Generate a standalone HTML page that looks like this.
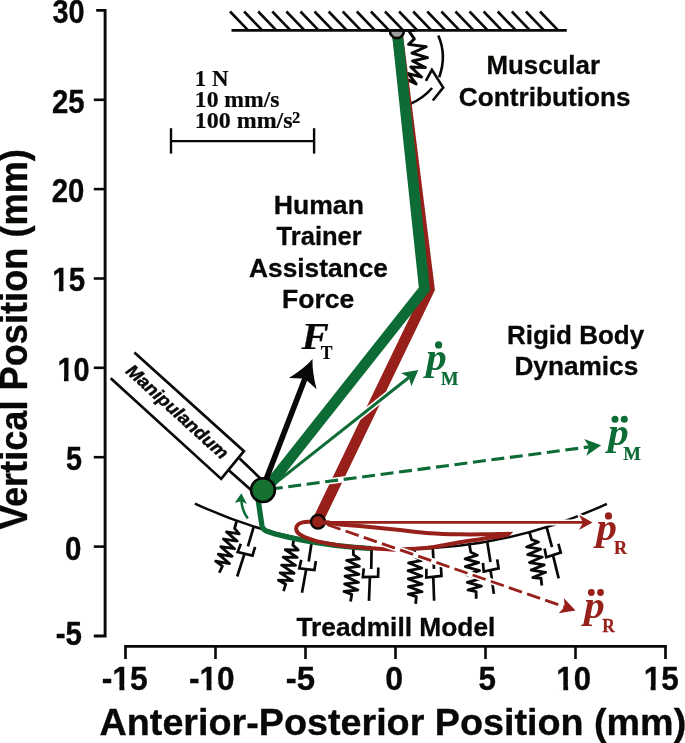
<!DOCTYPE html>
<html><head><meta charset="utf-8"><title>Figure</title>
<style>html,body{margin:0;padding:0;background:#fff;}svg{display:block;}</style>
</head><body>
<svg width="685" height="743" viewBox="0 0 685 743">
<rect width="685" height="743" fill="#fff"/>
<path d="M96.2,10.4 H105.1 V636 H93.8" fill="none" stroke="#0a0806" stroke-width="2.9" stroke-linejoin="miter"/>
<line x1="93.80" y1="99.80" x2="105.10" y2="99.80" stroke="#0a0806" stroke-width="2.6" />
<line x1="93.80" y1="189.10" x2="105.10" y2="189.10" stroke="#0a0806" stroke-width="2.6" />
<line x1="93.80" y1="278.50" x2="105.10" y2="278.50" stroke="#0a0806" stroke-width="2.6" />
<line x1="93.80" y1="367.80" x2="105.10" y2="367.80" stroke="#0a0806" stroke-width="2.6" />
<line x1="93.80" y1="457.20" x2="105.10" y2="457.20" stroke="#0a0806" stroke-width="2.6" />
<line x1="93.80" y1="546.60" x2="105.10" y2="546.60" stroke="#0a0806" stroke-width="2.6" />
<text transform="translate(52.45 23.00) scale(0.8765 1)" font-family='"Liberation Sans", Arial, Helvetica, sans-serif' font-weight="bold" font-style="normal" font-size="33" fill="#0a0806" stroke="#0a0806" stroke-width="0.35" stroke-linejoin="round">30</text>
<text transform="translate(51.97 112.70) scale(0.8881 1)" font-family='"Liberation Sans", Arial, Helvetica, sans-serif' font-weight="bold" font-style="normal" font-size="33" fill="#0a0806" stroke="#0a0806" stroke-width="0.35" stroke-linejoin="round">25</text>
<text transform="translate(51.77 201.90) scale(0.8901 1)" font-family='"Liberation Sans", Arial, Helvetica, sans-serif' font-weight="bold" font-style="normal" font-size="33" fill="#0a0806" stroke="#0a0806" stroke-width="0.35" stroke-linejoin="round">20</text>
<text transform="translate(52.26 291.30) scale(0.8942 1)" font-family='"Liberation Sans", Arial, Helvetica, sans-serif' font-weight="bold" font-style="normal" font-size="33" fill="#0a0806" stroke="#0a0806" stroke-width="0.35" stroke-linejoin="round">15</text>
<rect transform="translate(52.26 291.30) scale(0.8942 1)" x="0.99" y="-4.62" width="6.39" height="5.61" fill="#fff"/>
<rect transform="translate(52.26 291.30) scale(0.8942 1)" x="12.52" y="-4.62" width="5.96" height="5.61" fill="#fff"/>
<text transform="translate(57.49 381.10) scale(0.8783 1)" font-family='"Liberation Sans", Arial, Helvetica, sans-serif' font-weight="bold" font-style="normal" font-size="33" fill="#0a0806" stroke="#0a0806" stroke-width="0.35" stroke-linejoin="round">10</text>
<rect transform="translate(57.49 381.10) scale(0.8783 1)" x="0.99" y="-4.62" width="6.39" height="5.61" fill="#fff"/>
<rect transform="translate(57.49 381.10) scale(0.8783 1)" x="12.52" y="-4.62" width="5.96" height="5.61" fill="#fff"/>
<text transform="translate(65.94 470.30) scale(0.8710 1)" font-family='"Liberation Sans", Arial, Helvetica, sans-serif' font-weight="bold" font-style="normal" font-size="33" fill="#0a0806" stroke="#0a0806" stroke-width="0.35" stroke-linejoin="round">5</text>
<text transform="translate(65.12 559.70) scale(0.8931 1)" font-family='"Liberation Sans", Arial, Helvetica, sans-serif' font-weight="bold" font-style="normal" font-size="33" fill="#0a0806" stroke="#0a0806" stroke-width="0.35" stroke-linejoin="round">0</text>
<text transform="translate(55.72 645.10) scale(0.8943 1)" font-family='"Liberation Sans", Arial, Helvetica, sans-serif' font-weight="bold" font-style="normal" font-size="33" fill="#0a0806" stroke="#0a0806" stroke-width="0.35" stroke-linejoin="round">-5</text>
<path d="M125.5,659 V646.3 H665.5 V659" fill="none" stroke="#0a0806" stroke-width="2.7"/>
<line x1="215.50" y1="646.30" x2="215.50" y2="659.00" stroke="#0a0806" stroke-width="2.6" />
<line x1="305.50" y1="646.30" x2="305.50" y2="659.00" stroke="#0a0806" stroke-width="2.6" />
<line x1="395.50" y1="646.30" x2="395.50" y2="659.00" stroke="#0a0806" stroke-width="2.6" />
<line x1="485.50" y1="646.30" x2="485.50" y2="659.00" stroke="#0a0806" stroke-width="2.6" />
<line x1="575.50" y1="646.30" x2="575.50" y2="659.00" stroke="#0a0806" stroke-width="2.6" />
<text transform="translate(101.73 689.90) scale(0.9635 1)" font-family='"Liberation Sans", Arial, Helvetica, sans-serif' font-weight="bold" font-style="normal" font-size="33" fill="#0a0806" stroke="#0a0806" stroke-width="0.35" stroke-linejoin="round">-15</text>
<rect transform="translate(101.73 689.90) scale(0.9635 1)" x="11.98" y="-4.62" width="6.39" height="5.61" fill="#fff"/>
<rect transform="translate(101.73 689.90) scale(0.9635 1)" x="23.51" y="-4.62" width="5.96" height="5.61" fill="#fff"/>
<text transform="translate(189.04 689.90) scale(0.9568 1)" font-family='"Liberation Sans", Arial, Helvetica, sans-serif' font-weight="bold" font-style="normal" font-size="33" fill="#0a0806" stroke="#0a0806" stroke-width="0.35" stroke-linejoin="round">-10</text>
<rect transform="translate(189.04 689.90) scale(0.9568 1)" x="11.98" y="-4.62" width="6.39" height="5.61" fill="#fff"/>
<rect transform="translate(189.04 689.90) scale(0.9568 1)" x="23.51" y="-4.62" width="5.96" height="5.61" fill="#fff"/>
<text transform="translate(285.68 689.90) scale(0.9978 1)" font-family='"Liberation Sans", Arial, Helvetica, sans-serif' font-weight="bold" font-style="normal" font-size="33" fill="#0a0806" stroke="#0a0806" stroke-width="0.35" stroke-linejoin="round">-5</text>
<text transform="translate(385.22 689.90) scale(0.9697 1)" font-family='"Liberation Sans", Arial, Helvetica, sans-serif' font-weight="bold" font-style="normal" font-size="33" fill="#0a0806" stroke="#0a0806" stroke-width="0.35" stroke-linejoin="round">0</text>
<text transform="translate(478.56 689.90) scale(0.9502 1)" font-family='"Liberation Sans", Arial, Helvetica, sans-serif' font-weight="bold" font-style="normal" font-size="33" fill="#0a0806" stroke="#0a0806" stroke-width="0.35" stroke-linejoin="round">5</text>
<text transform="translate(556.36 689.90) scale(0.9414 1)" font-family='"Liberation Sans", Arial, Helvetica, sans-serif' font-weight="bold" font-style="normal" font-size="33" fill="#0a0806" stroke="#0a0806" stroke-width="0.35" stroke-linejoin="round">10</text>
<rect transform="translate(556.36 689.90) scale(0.9414 1)" x="0.99" y="-4.62" width="6.39" height="5.61" fill="#fff"/>
<rect transform="translate(556.36 689.90) scale(0.9414 1)" x="12.52" y="-4.62" width="5.96" height="5.61" fill="#fff"/>
<text transform="translate(643.63 689.90) scale(0.9566 1)" font-family='"Liberation Sans", Arial, Helvetica, sans-serif' font-weight="bold" font-style="normal" font-size="33" fill="#0a0806" stroke="#0a0806" stroke-width="0.35" stroke-linejoin="round">15</text>
<rect transform="translate(643.63 689.90) scale(0.9566 1)" x="0.99" y="-4.62" width="6.39" height="5.61" fill="#fff"/>
<rect transform="translate(643.63 689.90) scale(0.9566 1)" x="12.52" y="-4.62" width="5.96" height="5.61" fill="#fff"/>
<text transform="translate(99.56 734.90) scale(1.0087 1)" font-family='"Liberation Sans", Arial, Helvetica, sans-serif' font-weight="bold" font-style="normal" font-size="37.4" fill="#0a0806" stroke="#0a0806" stroke-width="0.35" stroke-linejoin="round">Anterior-Posterior Position (mm)</text>
<text transform="translate(27.40 529.00) rotate(-90) translate(-0.27 0.00) scale(0.9407 1)" font-family='"Liberation Sans", Arial, Helvetica, sans-serif' font-weight="bold" font-style="normal" font-size="38.5" fill="#0a0806" stroke="#0a0806" stroke-width="0.35" stroke-linejoin="round">Vertical Position (mm)</text>
<line x1="231.50" y1="30.40" x2="566.80" y2="30.40" stroke="#0a0806" stroke-width="2.7" />
<line x1="230.00" y1="11.50" x2="248.20" y2="30.40" stroke="#0a0806" stroke-width="2.6" stroke-linecap="butt"/>
<line x1="244.09" y1="11.50" x2="262.29" y2="30.40" stroke="#0a0806" stroke-width="2.6" stroke-linecap="butt"/>
<line x1="258.18" y1="11.50" x2="276.38" y2="30.40" stroke="#0a0806" stroke-width="2.6" stroke-linecap="butt"/>
<line x1="272.27" y1="11.50" x2="290.47" y2="30.40" stroke="#0a0806" stroke-width="2.6" stroke-linecap="butt"/>
<line x1="286.36" y1="11.50" x2="304.56" y2="30.40" stroke="#0a0806" stroke-width="2.6" stroke-linecap="butt"/>
<line x1="300.45" y1="11.50" x2="318.65" y2="30.40" stroke="#0a0806" stroke-width="2.6" stroke-linecap="butt"/>
<line x1="314.54" y1="11.50" x2="332.74" y2="30.40" stroke="#0a0806" stroke-width="2.6" stroke-linecap="butt"/>
<line x1="328.63" y1="11.50" x2="346.83" y2="30.40" stroke="#0a0806" stroke-width="2.6" stroke-linecap="butt"/>
<line x1="342.72" y1="11.50" x2="360.92" y2="30.40" stroke="#0a0806" stroke-width="2.6" stroke-linecap="butt"/>
<line x1="356.81" y1="11.50" x2="375.01" y2="30.40" stroke="#0a0806" stroke-width="2.6" stroke-linecap="butt"/>
<line x1="370.90" y1="11.50" x2="389.10" y2="30.40" stroke="#0a0806" stroke-width="2.6" stroke-linecap="butt"/>
<line x1="384.99" y1="11.50" x2="403.19" y2="30.40" stroke="#0a0806" stroke-width="2.6" stroke-linecap="butt"/>
<line x1="399.08" y1="11.50" x2="417.28" y2="30.40" stroke="#0a0806" stroke-width="2.6" stroke-linecap="butt"/>
<line x1="413.17" y1="11.50" x2="431.37" y2="30.40" stroke="#0a0806" stroke-width="2.6" stroke-linecap="butt"/>
<line x1="427.26" y1="11.50" x2="445.46" y2="30.40" stroke="#0a0806" stroke-width="2.6" stroke-linecap="butt"/>
<line x1="441.35" y1="11.50" x2="459.55" y2="30.40" stroke="#0a0806" stroke-width="2.6" stroke-linecap="butt"/>
<line x1="455.44" y1="11.50" x2="473.64" y2="30.40" stroke="#0a0806" stroke-width="2.6" stroke-linecap="butt"/>
<line x1="469.53" y1="11.50" x2="487.73" y2="30.40" stroke="#0a0806" stroke-width="2.6" stroke-linecap="butt"/>
<line x1="483.62" y1="11.50" x2="501.82" y2="30.40" stroke="#0a0806" stroke-width="2.6" stroke-linecap="butt"/>
<line x1="497.71" y1="11.50" x2="515.91" y2="30.40" stroke="#0a0806" stroke-width="2.6" stroke-linecap="butt"/>
<line x1="511.80" y1="11.50" x2="530.00" y2="30.40" stroke="#0a0806" stroke-width="2.6" stroke-linecap="butt"/>
<line x1="525.89" y1="11.50" x2="544.09" y2="30.40" stroke="#0a0806" stroke-width="2.6" stroke-linecap="butt"/>
<line x1="539.98" y1="11.50" x2="558.18" y2="30.40" stroke="#0a0806" stroke-width="2.6" stroke-linecap="butt"/>
<line x1="171.00" y1="141.10" x2="314.10" y2="141.10" stroke="#0a0806" stroke-width="2.4" />
<line x1="171.00" y1="128.20" x2="171.00" y2="153.60" stroke="#0a0806" stroke-width="2.4" />
<line x1="314.10" y1="128.20" x2="314.10" y2="153.60" stroke="#0a0806" stroke-width="2.4" />
<text transform="translate(194.87 85.90) scale(1.0011 1)" font-family='"Liberation Serif", "Times New Roman", Times, serif' font-weight="bold" font-style="normal" font-size="22.8" fill="#0a0806" stroke="#0a0806" stroke-width="0.2" stroke-linejoin="round">1 N</text>
<text transform="translate(194.81 107.30) scale(1.0373 1)" font-family='"Liberation Serif", "Times New Roman", Times, serif' font-weight="bold" font-style="normal" font-size="22.8" fill="#0a0806" stroke="#0a0806" stroke-width="0.2" stroke-linejoin="round">10 mm/s</text>
<text transform="translate(194.78 128.30) scale(1.0513 1)" font-family='"Liberation Serif", "Times New Roman", Times, serif' font-weight="bold" font-style="normal" font-size="22.8" fill="#0a0806" stroke="#0a0806" stroke-width="0.2" stroke-linejoin="round">100 mm/s</text>
<text transform="translate(291.89 123.10) scale(0.9611 1)" font-family='"Liberation Serif", "Times New Roman", Times, serif' font-weight="bold" font-style="normal" font-size="17.3" fill="#0a0806" stroke="#0a0806" stroke-width="0.2" stroke-linejoin="round">2</text>
<text transform="translate(486.45 73.70) scale(0.9759 1)" font-family='"Liberation Sans", Arial, Helvetica, sans-serif' font-weight="bold" font-style="normal" font-size="26.5" fill="#0a0806" stroke="#0a0806" stroke-width="0.3" stroke-linejoin="round">Muscular</text>
<text transform="translate(458.85 105.80) scale(0.9888 1)" font-family='"Liberation Sans", Arial, Helvetica, sans-serif' font-weight="bold" font-style="normal" font-size="26.5" fill="#0a0806" stroke="#0a0806" stroke-width="0.3" stroke-linejoin="round">Contributions</text>
<text transform="translate(273.70 213.80) scale(1.0047 1)" font-family='"Liberation Sans", Arial, Helvetica, sans-serif' font-weight="bold" font-style="normal" font-size="26.5" fill="#0a0806" stroke="#0a0806" stroke-width="0.3" stroke-linejoin="round">Human</text>
<text transform="translate(276.54 245.20) scale(0.9645 1)" font-family='"Liberation Sans", Arial, Helvetica, sans-serif' font-weight="bold" font-style="normal" font-size="26.5" fill="#0a0806" stroke="#0a0806" stroke-width="0.3" stroke-linejoin="round">Trainer</text>
<text transform="translate(249.04 276.70) scale(0.9928 1)" font-family='"Liberation Sans", Arial, Helvetica, sans-serif' font-weight="bold" font-style="normal" font-size="26.5" fill="#0a0806" stroke="#0a0806" stroke-width="0.3" stroke-linejoin="round">Assistance</text>
<text transform="translate(282.11 308.20) scale(1.0015 1)" font-family='"Liberation Sans", Arial, Helvetica, sans-serif' font-weight="bold" font-style="normal" font-size="26.5" fill="#0a0806" stroke="#0a0806" stroke-width="0.3" stroke-linejoin="round">Force</text>
<text transform="translate(506.94 343.90) scale(0.9824 1)" font-family='"Liberation Sans", Arial, Helvetica, sans-serif' font-weight="bold" font-style="normal" font-size="26.5" fill="#0a0806" stroke="#0a0806" stroke-width="0.3" stroke-linejoin="round">Rigid Body</text>
<text transform="translate(514.43 374.90) scale(0.9894 1)" font-family='"Liberation Sans", Arial, Helvetica, sans-serif' font-weight="bold" font-style="normal" font-size="26.5" fill="#0a0806" stroke="#0a0806" stroke-width="0.3" stroke-linejoin="round">Dynamics</text>
<text transform="translate(296.44 635.70) scale(0.9937 1)" font-family='"Liberation Sans", Arial, Helvetica, sans-serif' font-weight="bold" font-style="normal" font-size="26.5" fill="#0a0806" stroke="#0a0806" stroke-width="0.3" stroke-linejoin="round">Treadmill Model</text>
<path d="M194.9,503.59 A489.7,489.7 0 0 0 606.9,503.83" fill="none" stroke="#0a0806" stroke-width="2.5"/>
<g transform="translate(236.70 520.71) rotate(18.1) translate(0 1.6)"><polyline points="0.00,-1.00 0.37,6.30 6.49,10.19 -6.21,12.23 6.82,17.65 -6.95,19.95 6.71,25.69 -7.03,28.07 6.73,33.78 -7.10,35.88 6.46,41.34 -7.37,43.44 0.52,46.01 -0.37,53.25" fill="none" stroke="#0a0806" stroke-width="2.8" stroke-linejoin="round" stroke-linecap="butt"/></g>
<g transform="translate(253.80 526.45) rotate(18.1) translate(0 1.6)"><polyline points="0.00,-1.00 0.58,19.17" fill="none" stroke="#0a0806" stroke-width="2.7" stroke-linejoin="miter"/><polyline points="-6.97,18.90 -7.37,27.66 7.81,26.48 7.58,17.41" fill="none" stroke="#0a0806" stroke-width="2.7" stroke-linejoin="miter"/><polyline points="-0.38,27.48 -0.24,51.10" fill="none" stroke="#0a0806" stroke-width="2.7" stroke-linejoin="miter"/></g>
<g transform="translate(294.00 537.28) rotate(10.6) translate(0 1.6)"><polyline points="0.00,-1.00 0.37,6.30 6.49,10.19 -6.21,12.23 6.82,17.65 -6.95,19.95 6.71,25.69 -7.03,28.07 6.73,33.78 -7.10,35.88 6.46,41.34 -7.37,43.44 0.52,46.01 -0.37,53.25" fill="none" stroke="#0a0806" stroke-width="2.8" stroke-linejoin="round" stroke-linecap="butt"/></g>
<g transform="translate(311.90 540.95) rotate(10.6) translate(0 1.6)"><polyline points="0.00,-1.00 0.58,19.17" fill="none" stroke="#0a0806" stroke-width="2.7" stroke-linejoin="miter"/><polyline points="-6.97,18.90 -7.37,27.66 7.81,26.48 7.58,17.41" fill="none" stroke="#0a0806" stroke-width="2.7" stroke-linejoin="miter"/><polyline points="-0.38,27.48 -0.24,51.10" fill="none" stroke="#0a0806" stroke-width="2.7" stroke-linejoin="miter"/></g>
<g transform="translate(353.40 546.82) rotate(2.6) translate(0 1.6)"><polyline points="0.00,-1.00 0.37,6.30 6.49,10.19 -6.21,12.23 6.82,17.65 -6.95,19.95 6.71,25.69 -7.03,28.07 6.73,33.78 -7.10,35.88 6.46,41.34 -7.37,43.44 0.52,46.01 -0.37,53.25" fill="none" stroke="#0a0806" stroke-width="2.8" stroke-linejoin="round" stroke-linecap="butt"/></g>
<g transform="translate(371.60 548.26) rotate(2.6) translate(0 1.6)"><polyline points="0.00,-1.00 0.58,19.17" fill="none" stroke="#0a0806" stroke-width="2.7" stroke-linejoin="miter"/><polyline points="-6.97,18.90 -7.37,27.66 7.81,26.48 7.58,17.41" fill="none" stroke="#0a0806" stroke-width="2.7" stroke-linejoin="miter"/><polyline points="-0.38,27.48 -0.24,51.10" fill="none" stroke="#0a0806" stroke-width="2.7" stroke-linejoin="miter"/></g>
<g transform="translate(414.40 548.97) rotate(-1.7) translate(0 1.6)"><polyline points="0.00,-1.00 0.37,6.30 6.49,10.19 -6.21,12.23 6.82,17.65 -6.95,19.95 6.71,25.69 -7.03,28.07 6.73,33.78 -7.10,35.88 6.46,41.34 -7.37,43.44 0.52,46.01 -0.37,53.25" fill="none" stroke="#0a0806" stroke-width="2.8" stroke-linejoin="round" stroke-linecap="butt"/></g>
<g transform="translate(432.80 548.13) rotate(-1.7) translate(0 1.6)"><polyline points="0.00,-1.00 0.58,19.17" fill="none" stroke="#0a0806" stroke-width="2.7" stroke-linejoin="miter"/><polyline points="-6.97,18.90 -7.37,27.66 7.81,26.48 7.58,17.41" fill="none" stroke="#0a0806" stroke-width="2.7" stroke-linejoin="miter"/><polyline points="-0.38,27.48 -0.24,51.10" fill="none" stroke="#0a0806" stroke-width="2.7" stroke-linejoin="miter"/></g>
<g transform="translate(469.40 544.37) rotate(-7.5) translate(0 1.6)"><polyline points="0.00,-1.00 0.37,6.30 6.49,10.19 -6.21,12.23 6.82,17.65 -6.95,19.95 6.71,25.69 -7.03,28.07 6.73,33.78 -7.10,35.88 6.46,41.34 -7.37,43.44 0.52,46.01 -0.37,53.25" fill="none" stroke="#0a0806" stroke-width="2.8" stroke-linejoin="round" stroke-linecap="butt"/></g>
<g transform="translate(487.20 541.53) rotate(-7.5) translate(0 1.6)"><polyline points="0.00,-1.00 0.58,19.17" fill="none" stroke="#0a0806" stroke-width="2.7" stroke-linejoin="miter"/><polyline points="-6.97,18.90 -7.37,27.66 7.81,26.48 7.58,17.41" fill="none" stroke="#0a0806" stroke-width="2.7" stroke-linejoin="miter"/><polyline points="-0.38,27.48 -0.24,51.10" fill="none" stroke="#0a0806" stroke-width="2.7" stroke-linejoin="miter"/></g>
<g transform="translate(529.40 532.06) rotate(-13.5) translate(0 1.6)"><polyline points="0.00,-1.00 0.37,6.30 6.49,10.19 -6.21,12.23 6.82,17.65 -6.95,19.95 6.71,25.69 -7.03,28.07 6.73,33.78 -7.10,35.88 6.46,41.34 -7.37,43.44 0.52,46.01 -0.37,53.25" fill="none" stroke="#0a0806" stroke-width="2.8" stroke-linejoin="round" stroke-linecap="butt"/></g>
<g transform="translate(546.60 527.05) rotate(-13.5) translate(0 1.6)"><polyline points="0.00,-1.00 0.58,19.17" fill="none" stroke="#0a0806" stroke-width="2.7" stroke-linejoin="miter"/><polyline points="-6.97,18.90 -7.37,27.66 7.81,26.48 7.58,17.41" fill="none" stroke="#0a0806" stroke-width="2.7" stroke-linejoin="miter"/><polyline points="-0.38,27.48 -0.24,51.10" fill="none" stroke="#0a0806" stroke-width="2.7" stroke-linejoin="miter"/></g>
<path d="M134.4,352.5 L243.9,451.2 L221.2,478.9 L110.7,378.3" fill="none" stroke="#0a0806" stroke-width="2.7"/>
<path d="M239.6,458.5 L262,480 M228.5,470.1 L253,491.7" fill="none" stroke="#0a0806" stroke-width="2.7"/>
<text fill="#0a0806" stroke="#0a0806" stroke-width="0.45" transform="translate(124.7 372.2) rotate(42.2)" font-family='"Liberation Sans", Arial, Helvetica, sans-serif' font-weight="bold" font-style="italic" font-size="17.8" textLength="131" lengthAdjust="spacingAndGlyphs">Manipulandum</text>
<polyline points="409.20,31.60 414.40,38.90 408.60,44.40 426.20,46.70 411.90,53.10 427.60,57.60 412.60,61.00 425.40,67.60 410.80,67.00 421.60,77.00 408.30,73.60 416.20,84.00 408.00,79.90" fill="none" stroke="#0a0806" stroke-width="2.9" stroke-linejoin="round"/>
<path d="M438.3,35.5 Q447.0,55.5 439.2,77.2" fill="none" stroke="#0a0806" stroke-width="2.6"/>
<polyline points="425.9,80.8 431.9,69.9 443.2,87.6 432.8,100.5" fill="none" stroke="#0a0806" stroke-width="2.6" stroke-linejoin="miter"/>
<path d="M432.1,88 Q423,98.5 410,104" fill="none" stroke="#0a0806" stroke-width="2.6"/>
<path d="M257,492 L261.9,525.5 Q262.8,530.2 268,531.6 L275,534.02 L285,536.45 L295,538.66 L305,540.66 L315,542.43 L325,543.99 L335,545.34 L345,546.48 L355,547.41 L365,548.13 L371,548.42" fill="none" stroke="#0d6b35" stroke-width="5.3" stroke-linejoin="round"/>
<polyline points="397.10,31.00 429.40,289.00 317.30,521.60" fill="none" stroke="#97201a" stroke-width="10.8" stroke-linejoin="miter"/>
<path d="M318.00,521.80 C316.67,521.80 312.57,521.70 310.00,521.80 C307.43,521.90 304.65,521.90 302.60,522.40 C300.55,522.90 298.78,523.73 297.70,524.80 C296.62,525.87 296.05,527.47 296.10,528.80 C296.15,530.13 296.92,531.60 298.00,532.80 C299.08,534.00 300.77,535.02 302.60,536.00 C304.43,536.98 306.72,537.85 309.00,538.70 C311.28,539.55 312.90,540.27 316.30,541.10 C319.70,541.93 325.02,542.90 329.40,543.70 C333.78,544.50 336.45,545.20 342.60,545.90 C348.75,546.60 358.27,547.28 366.30,547.90 C374.33,548.52 383.72,549.40 390.80,549.60 C397.88,549.80 402.27,549.43 408.80,549.10 C415.33,548.77 424.17,548.25 430.00,547.60 C435.83,546.95 438.80,546.08 443.80,545.20 C448.80,544.32 454.80,543.17 460.00,542.30 C465.20,541.43 470.03,540.75 475.00,540.00 C479.97,539.25 484.97,538.60 489.80,537.80 C494.63,537.00 501.63,535.63 504.00,535.20" fill="none" stroke="#97201a" stroke-width="4" stroke-linejoin="round" stroke-linecap="butt"/>
<path d="M506.00,533.90 C502.50,533.97 492.67,534.23 485.00,534.30 C477.33,534.37 469.17,534.48 460.00,534.30 C450.83,534.12 440.00,533.90 430.00,533.20 C420.00,532.50 410.00,531.13 400.00,530.10 C390.00,529.07 380.00,527.95 370.00,527.00 C360.00,526.05 347.33,525.13 340.00,524.40 C332.67,523.67 329.67,523.03 326.00,522.60 C322.33,522.17 319.33,521.93 318.00,521.80" fill="none" stroke="#97201a" stroke-width="4" stroke-linejoin="round" stroke-linecap="butt"/>
<path d="M485,536 L497,532.3 L513.3,531.7 L509.2,536.3 L497,539 Z" fill="#97201a"/>
<line x1="263.40" y1="492.60" x2="408.89" y2="377.54" stroke="#fff" stroke-width="6.2"/>
<polygon points="418.30,370.10 411.43,386.24 408.89,377.54 401.01,373.06" fill="#fff" stroke="#fff" stroke-width="3.2" stroke-linejoin="miter"/>
<line x1="263.40" y1="492.60" x2="408.89" y2="377.54" stroke="#0d6b35" stroke-width="3.0" />
<polygon points="418.30,370.10 411.43,386.24 408.89,377.54 401.01,373.06" fill="#0d6b35"/>
<line x1="263.40" y1="490.00" x2="589.30" y2="446.87" stroke="#fff" stroke-width="6.300000000000001"/>
<polygon points="601.20,445.30 586.44,455.73 589.30,446.87 584.24,439.07" fill="#fff" stroke="#fff" stroke-width="3.2" stroke-linejoin="miter"/>
<line x1="263.40" y1="490.00" x2="589.30" y2="446.87" stroke="#0d6b35" stroke-width="3.1" stroke-dasharray="13 5.63" stroke-dashoffset="12.2"/>
<polygon points="601.20,445.30 586.44,455.73 589.30,446.87 584.24,439.07" fill="#0d6b35"/>
<polyline points="397.10,31.00 424.40,289.00 265.30,490.00" fill="none" stroke="#0d6b35" stroke-width="10.8" stroke-linejoin="miter"/>
<path d="M390.06,30.3 A6.9,6.9 0 1 0 403.74,30.3 Z" fill="#a09e9d" stroke="#0a0806" stroke-width="2.6"/>
<line x1="380.00" y1="30.40" x2="415.00" y2="30.40" stroke="#0a0806" stroke-width="2.7" />
<path d="M247.8,518.5 Q241.6,510 241.4,500" fill="none" stroke="#0d6b35" stroke-width="2.5"/>
<polygon points="241.4,493.2 234.7,502.7 241.4,501.3 246.9,504.1" fill="#0d6b35"/>
<line x1="388.30" y1="522.45" x2="583.00" y2="522.45" stroke="#fff" stroke-width="6.0"/>
<polygon points="592.50,522.45 579.00,530.05 583.00,522.45 579.00,514.85" fill="#fff" stroke="#fff" stroke-width="3.2" stroke-linejoin="miter"/>
<line x1="318.30" y1="522.45" x2="583.00" y2="522.45" stroke="#97201a" stroke-width="2.8" />
<polygon points="592.50,522.45 579.00,530.05 583.00,522.45 579.00,514.85" fill="#97201a"/>
<line x1="346.65" y1="531.41" x2="564.63" y2="606.84" stroke="#fff" stroke-width="6.0"/>
<polygon points="575.50,610.60 558.71,613.26 564.63,606.84 563.94,598.13" fill="#fff" stroke="#fff" stroke-width="3.2" stroke-linejoin="miter"/>
<line x1="318.30" y1="521.60" x2="564.63" y2="606.84" stroke="#97201a" stroke-width="2.8" stroke-dasharray="13.8 5.4" stroke-dashoffset="9.5"/>
<polygon points="575.50,610.60 558.71,613.26 564.63,606.84 563.94,598.13" fill="#97201a"/>
<line x1="262.00" y1="490.00" x2="305.30" y2="377.76" stroke="#0a0806" stroke-width="5.6" />
<path d="M312.50,359.10 Q303.71,369.11 288.89,378.07 L301.97,378.62 L307.19,380.63 L316.55,389.17 Q312.11,372.35 312.50,359.10 Z" fill="#0a0806"/>
<circle cx="318" cy="521.8" r="6.9" fill="#97201a" stroke="#0a0806" stroke-width="2.3"/>
<path d="M318,522.6 L330,522.6" stroke="#97201a" stroke-width="4.2" fill="none"/>
<circle cx="263" cy="490.1" r="11.9" fill="#15722f" stroke="#0a0806" stroke-width="2.6"/>
<text transform="translate(301.60 349.30) scale(1.0713 1)" font-family='"Liberation Serif", "Times New Roman", Times, serif' font-weight="bold" font-style="italic" font-size="38.2" fill="#0a0806" stroke="#0a0806" stroke-width="0.25" stroke-linejoin="round">F</text>
<text transform="translate(320.64 358.80) scale(0.9345 1)" font-family='"Liberation Serif", "Times New Roman", Times, serif' font-weight="bold" font-style="normal" font-size="18.8" fill="#0a0806" stroke="#0a0806" stroke-width="0.25" stroke-linejoin="round">T</text>
<text transform="translate(426.11 369.60) scale(1.0689 1)" font-family='"Liberation Serif", "Times New Roman", Times, serif' font-weight="bold" font-style="italic" font-size="38.8" fill="#0d6b35">p</text>
<text transform="translate(441.08 384.80) scale(0.9838 1)" font-family='"Liberation Serif", "Times New Roman", Times, serif' font-weight="bold" font-style="normal" font-size="18.8" fill="#0d6b35" stroke="#0d6b35" stroke-width="0.25" stroke-linejoin="round">M</text>
<circle cx="438.6" cy="344.9" r="3.6" fill="#0d6b35"/>
<text transform="translate(608.11 445.20) scale(1.0689 1)" font-family='"Liberation Serif", "Times New Roman", Times, serif' font-weight="bold" font-style="italic" font-size="38.8" fill="#0d6b35">p</text>
<text transform="translate(623.37 460.00) scale(0.9957 1)" font-family='"Liberation Serif", "Times New Roman", Times, serif' font-weight="bold" font-style="normal" font-size="18.8" fill="#0d6b35" stroke="#0d6b35" stroke-width="0.25" stroke-linejoin="round">M</text>
<circle cx="615" cy="419.2" r="3.5" fill="#0d6b35"/>
<circle cx="624.3" cy="419.2" r="3.5" fill="#0d6b35"/>
<text transform="translate(596.31 540.40) scale(1.0689 1)" font-family='"Liberation Serif", "Times New Roman", Times, serif' font-weight="bold" font-style="italic" font-size="38.8" fill="#97201a">p</text>
<text transform="translate(613.98 554.00) scale(0.9630 1)" font-family='"Liberation Serif", "Times New Roman", Times, serif' font-weight="bold" font-style="normal" font-size="18.8" fill="#97201a" stroke="#97201a" stroke-width="0.25" stroke-linejoin="round">R</text>
<circle cx="608.5" cy="515.9" r="3.6" fill="#97201a"/>
<text transform="translate(583.91 617.80) scale(1.0689 1)" font-family='"Liberation Serif", "Times New Roman", Times, serif' font-weight="bold" font-style="italic" font-size="38.8" fill="#97201a">p</text>
<text transform="translate(602.20 631.50) scale(0.9257 1)" font-family='"Liberation Serif", "Times New Roman", Times, serif' font-weight="bold" font-style="normal" font-size="18.8" fill="#97201a" stroke="#97201a" stroke-width="0.25" stroke-linejoin="round">R</text>
<circle cx="591.3" cy="592.5" r="3.4" fill="#97201a"/>
<circle cx="600.5" cy="592.5" r="3.4" fill="#97201a"/>
</svg>
</body></html>
